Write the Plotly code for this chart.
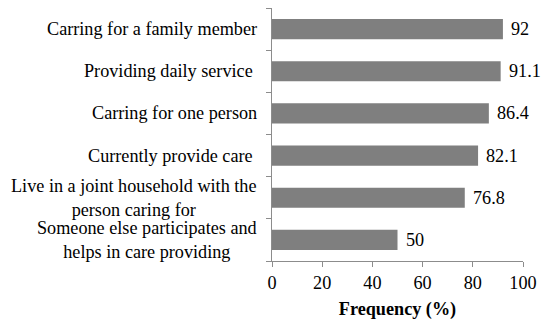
import plotly.graph_objects as go

categories = [
    "Carring for a family member",
    "Providing daily service ",
    "Carring for one person",
    "Currently provide care ",
    "Live in a joint household with the<br>person caring for",
    "Someone else participates and<br>helps in care providing",
]
values = [92, 91.1, 86.4, 82.1, 76.8, 50]
value_labels = ["92", "91.1", "86.4", "82.1", "76.8", "50"]
x_ticks = [0, 20, 40, 60, 80, 100]
x_title = "Frequency (%)"

FONT = "Liberation Serif"
FS = 18.2

fig = go.Figure()
fig.add_trace(go.Bar(
    y=categories, x=values, orientation="h",
    marker=dict(color="#7f7f7f", line=dict(width=0)),
    width=0.48, hoverinfo="skip",
))

annotations = []
for c, v, t in zip(categories, values, value_labels):
    annotations.append(dict(x=v, y=c, xref="x", yref="y", text=t,
                            showarrow=False, xanchor="left", xshift=6,
                            font=dict(family=FONT, size=FS, color="black")))
    annotations.append(dict(x=0, y=c, xref="paper", yref="y", text=c,
                            showarrow=False, xanchor="right", xshift=-14,
                            align="center", borderpad=0,
                            font=dict(family=FONT, size=FS, color="black")))

fig.update_layout(
    width=550, height=323,
    margin=dict(l=264, r=35, t=0, b=70, autoexpand=False),
    paper_bgcolor="white", plot_bgcolor="white",
    font=dict(family=FONT, size=FS, color="black"),
    showlegend=False,
    annotations=annotations,
    xaxis=dict(range=[0, 100], tickvals=x_ticks, showgrid=False, zeroline=False,
               showline=True, linecolor="#8c8c8c", linewidth=1,
               ticks="outside", ticklen=5, tickcolor="#8c8c8c",
               tickfont=dict(family=FONT, size=FS, color="black"),
               title=dict(text="<b>" + x_title + "</b>", standoff=10,
                          font=dict(family=FONT, size=FS, color="black"))),
    yaxis=dict(categoryorder="array", categoryarray=categories[::-1],
               showgrid=False, zeroline=False, showticklabels=False,
               showline=True, linecolor="#8c8c8c", linewidth=1,
               ticks="outside", ticklen=5, tickcolor="#8c8c8c",
               tickson="boundaries", range=[-0.5, 5.5]),
)

fig.write_html("out.html")
